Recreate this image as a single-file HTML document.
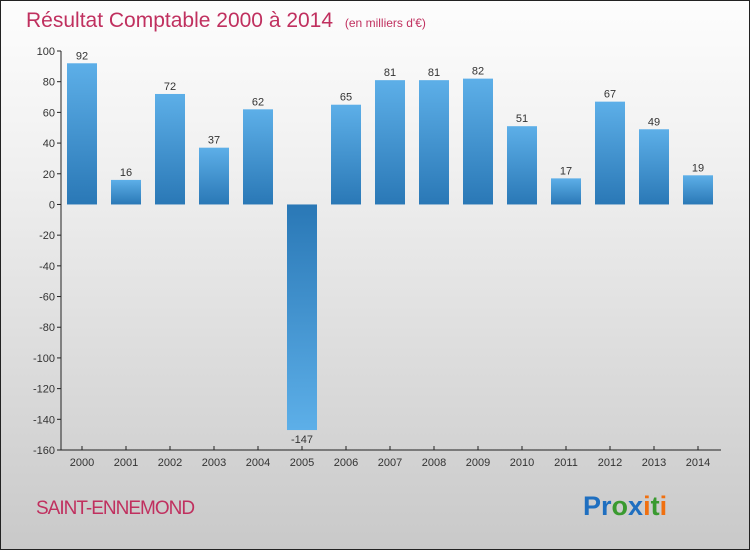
<!DOCTYPE html>
<html><head><meta charset="utf-8"><style>
html,body{margin:0;padding:0}
body{width:750px;height:550px;overflow:hidden;font-family:"Liberation Sans",sans-serif}
#wrap{position:absolute;left:0;top:0;width:748px;height:548px;border:1px solid #222;background:linear-gradient(#fdfdfd,#f0f0f0 30%,#c9c9c9)}
</style></head><body>
<div id="wrap">
<svg id="chart" width="750" height="550" style="position:absolute;left:-1px;top:-1px">
<defs>
<linearGradient id="gpos" x1="0" y1="0" x2="0" y2="1"><stop offset="0" stop-color="#5dafe8"/><stop offset="1" stop-color="#2a78b6"/></linearGradient>
<linearGradient id="gneg" x1="0" y1="0" x2="0" y2="1"><stop offset="0" stop-color="#2a78b6"/><stop offset="1" stop-color="#5dafe8"/></linearGradient>
</defs>
<text x="26" y="27" font-size="21" fill="#c0305f">Résultat Comptable 2000 à 2014 <tspan font-size="12" dx="6">(en milliers d'€)</tspan></text>
<g id="plot"></g>
<text x="36" y="514" font-size="19" fill="#c0305f" letter-spacing="-1">SAINT-ENNEMOND</text>
<text x="583" y="515" font-size="27" font-weight="bold"><tspan fill="#1f6fc0">Pr</tspan><tspan fill="#3a9a30">o</tspan><tspan fill="#1f6fc0">x</tspan><tspan fill="#f07010">i</tspan><tspan fill="#3a9a30">t</tspan><tspan fill="#f07010">i</tspan></text>
</svg>
</div>
<script>
const years=["2000","2001","2002","2003","2004","2005","2006","2007","2008","2009","2010","2011","2012","2013","2014"];
const values=[92,16,72,37,62,-147,65,81,81,82,51,17,67,49,19];
const yTicks=[100,80,60,40,20,0,-20,-40,-60,-80,-100,-120,-140,-160];
const NS="http://www.w3.org/2000/svg";
const g=document.getElementById('plot');
const yMin=-160,yMax=100,top0=51,bot0=450;
const y=v=>bot0-(v-yMin)/(yMax-yMin)*(bot0-top0);
const x=i=>82+i*44;
function mk(t,a){const e=document.createElementNS(NS,t);for(const k in a)e.setAttribute(k,a[k]);g.appendChild(e);return e;}
yTicks.forEach(t=>{
 const l=mk('line',{x1:57,x2:61,y1:y(t),y2:y(t),stroke:'#222'});
 
 
 const tx=mk('text',{x:55,y:y(t)+4,'font-size':11,fill:'#333','text-anchor':'end'});tx.textContent=t;
 
 
});
values.forEach((v,i)=>{
 const y0=y(0),yv=y(v);
 const r=mk('rect',{x:x(i)-15,width:30,y:Math.min(y0,yv),height:Math.abs(yv-y0),fill:v>=0?'url(#gpos)':'url(#gneg)'});
 
 
 const tx=mk('text',{x:x(i),y:v>=0?yv-4:yv+13,'font-size':11,fill:'#333','text-anchor':'middle'});tx.textContent=v;
 
 
 const tk=mk('line',{x1:x(i),x2:x(i),y1:bot0-4,y2:bot0,stroke:'#222'});
 
 
 const yl=mk('text',{x:x(i),y:bot0+16,'font-size':11,fill:'#333','text-anchor':'middle'});yl.textContent=years[i];
 
 
});
const ya=mk('line',{x1:61,x2:61,y1:top0,y2:bot0,stroke:'#222'});


const xa=mk('line',{x1:61,x2:721,y1:bot0,y2:bot0,stroke:'#222'});


</script>
</body></html>
